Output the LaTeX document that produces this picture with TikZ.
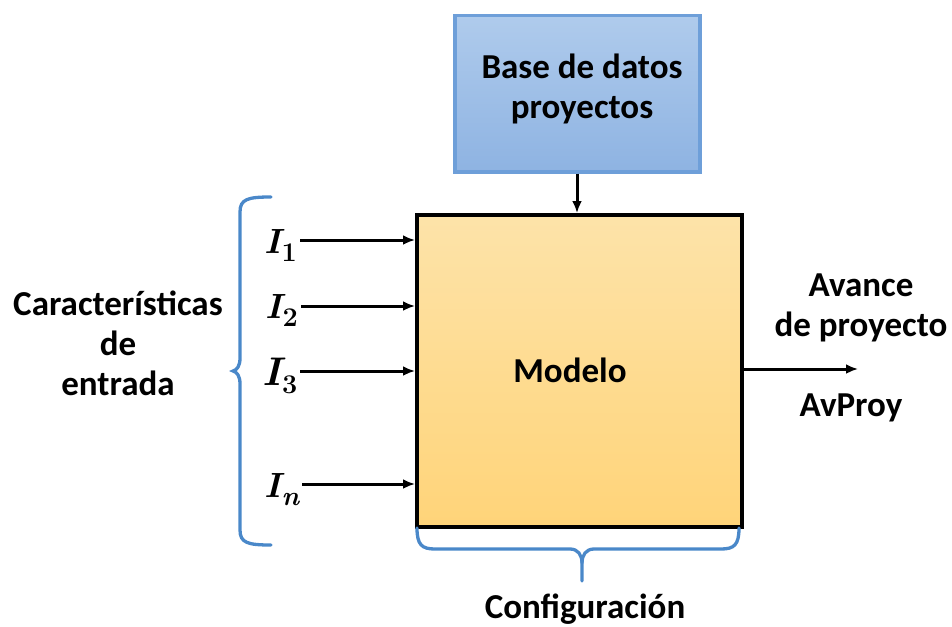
\documentclass[tikz,border=0pt]{standalone}
\usepackage{fontspec}
\setmainfont{Carlito}
\newfontfamily\lmfont{Latin Modern Roman}
\usetikzlibrary{arrows.meta}
\definecolor{bluefill1}{HTML}{AFCBEC}
\definecolor{bluefill2}{HTML}{8EB3E2}
\definecolor{blueborder}{HTML}{6E9FD9}
\definecolor{orfill1}{HTML}{FDE3A9}
\definecolor{orfill2}{HTML}{FFD479}
\definecolor{bracecol}{HTML}{4A88C9}
\newcommand{\invar}[3]{{\fontsize{#3}{#3}\selectfont\lmfont\bfseries\itshape I}\kern1pt\raisebox{-8pt}{\fontsize{27}{27}\selectfont\lmfont\bfseries #1#2}}
\tikzset{
  lbl/.style={font=\fontsize{35}{40}\selectfont\bfseries, align=center, inner sep=0pt},
  inlbl/.style={inner sep=0pt, anchor=base west},
  arr/.style={-{Latex[length=12pt,width=10pt]}, line width=3pt, black},
  bracestyle/.style={draw=bracecol, line width=3.3pt, line cap=round}
}
\begin{document}
\begin{tikzpicture}[x=1pt,y=-1pt]
\useasboundingbox (0,0) rectangle (952,626);
% top box
\node[draw=blueborder, line width=3.5pt, top color=bluefill1, bottom color=bluefill2,
  minimum width=245pt, minimum height=156pt, anchor=north west, inner sep=0pt] (db) at (453,14) {};
\node[lbl] (dbt) at (582,89) {Base de datos\\proyectos};
% main box
\node[draw=black, line width=3.5pt, top color=orfill1, bottom color=orfill2,
  minimum width=325pt, minimum height=312pt, anchor=north west, inner sep=0pt] (mod) at (415,213) {};
\node[lbl] (modt) at (570,370) {Modelo};
\draw[arr] (db.south -| 577,0) -- (mod.north -| 577,0);
% inputs
\node[inlbl] (i1) at (264,253) {\invar{}{1}{35}};
\node[inlbl] (i2) at (265,318) {\invar{}{2}{35}};
\node[inlbl] (i3) at (262,385) {\invar{}{3}{40}};
\node[inlbl] (in) at (264,497) {\invar{\itshape}{n}{35}};
\coordinate (e1) at (415,240);
\coordinate (e2) at (415,306);
\coordinate (e3) at (415,371);
\coordinate (en) at (415,484);
\draw[arr] (i1.east |- e1) ++(3,0) -- (e1);
\draw[arr] (i2.east |- e2) ++(3,0) -- (e2);
\draw[arr] (i3.east |- e3) ++(3,0) -- (e3);
\draw[arr] (in.east |- en) ++(3,0) -- (en);
% output
\coordinate (out) at (858,369);
\draw[arr] (mod.east |- out) -- (out);
\node[lbl] (avt) at (861,308) {Avance\\de proyecto};
\node[lbl] (avp) at (851,408) {AvProy};
% left brace
\draw[bracestyle] (271,197) .. controls (248,197) and (240,199) .. (240,212)
  -- (240,358) .. controls (240,366) and (237,370) .. (233,371)
  .. controls (237,372) and (240,376) .. (240,384)
  -- (240,530) .. controls (240,543) and (248,545) .. (271,545);
\node[lbl] (car) at (118,343) {Características\\de\\entrada};
% bottom brace
\draw[bracestyle] (417,528) .. controls (417,545) and (422,549) .. (435,549)
  -- (570,549) .. controls (578,549) and (582,555) .. (582,563) -- (582,581);
\draw[bracestyle] (739,528) .. controls (739,545) and (734,549) .. (721,549)
  -- (594,549) .. controls (586,549) and (582,555) .. (582,563);
\node[lbl] (conf) at (585,609) {Configuración};
\end{tikzpicture}
\end{document}
